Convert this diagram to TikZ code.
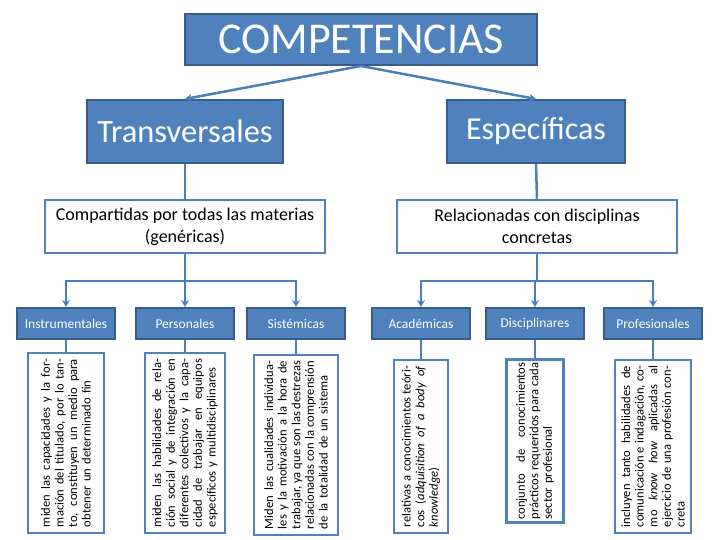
\documentclass[tikz,border=0pt]{standalone}
\usepackage{fontspec}
\setmainfont{Carlito}
\usepackage{tikz}
\usetikzlibrary{arrows.meta,positioning}
\definecolor{boxblue}{RGB}{79,129,189}
\definecolor{darkblue}{RGB}{56,93,138}
\definecolor{lineblue}{RGB}{74,126,187}

\newlength{\rowlen}
\newcommand{\fullline}[1]{\leavevmode\hbox to \rowlen{\spaceskip=0.21em plus 3em minus 0.05em #1}\\}

\begin{document}
\begin{tikzpicture}[x=1pt, y=-1pt,
    bluebox/.style={draw=darkblue, line width=2pt, fill=boxblue, text=white, inner sep=0pt},
    whitebox/.style={draw=boxblue, line width=2.5pt, fill=white, align=center, inner sep=0pt},
    tagbox/.style={bluebox, minimum width=98pt, minimum height=31pt, font=\fontsize{13.5}{15}\selectfont},
    uprightbox/.style={draw=boxblue, line width=2.5pt, fill=white, rotate=90, align=left,
        inner xsep=6pt, inner ysep=2pt, font=\fontsize{12.6}{13.6}\selectfont,
        text width=#1, execute at begin node={\setlength{\rowlen}{#1}}},
    link/.style={draw=lineblue, line width=2.5pt},
    tolink/.style={link, -{Stealth[length=7pt,width=8pt]}}]
    \useasboundingbox (0,0) rectangle (720,540);

    % Top levels
    \node[bluebox, minimum width=352pt, minimum height=51pt, font=\fontsize{44}{46}\selectfont] (comp) at (361,39.5) {COMPETENCIAS};
    \node[bluebox, minimum width=196pt, minimum height=63pt, font=\fontsize{32.5}{34}\selectfont] (trans) at (185,131.5) {Transversales};
    \node[bluebox, minimum width=178pt, minimum height=63pt, font=\fontsize{32}{34}\selectfont] (espec) at (536,131.5) {Específicas};

    \node[whitebox, minimum width=280pt, minimum height=53pt, font=\fontsize{18}{22}\selectfont] (gen) at (185,226.5) {Compartidas por todas las materias\\(genéricas)};
    \node[whitebox, minimum width=280pt, minimum height=53pt, font=\fontsize{18}{22}\selectfont] (conc) at (537,226.5) {Relacionadas con disciplinas\\concretas};

    % Kinds of competences
    \node[tagbox] (instr) at (66,323.5) {Instrumentales};
    \node[tagbox] (pers) at (185,323.5) {Personales};
    \node[tagbox] (sist) at (296,323.5) {Sistémicas};
    \node[tagbox] (acad) at (421,323.5) {Académicas};
    \node[tagbox] (disc) at (535,323.5) {Disciplinares};
    \node[tagbox] (prof) at (653,323.5) {Profesionales};

    % Descriptions, read from bottom to top
    \node[uprightbox=168pt, minimum height=76pt] (txtinstr) at (66,443) {%
        \fullline{miden las capacidades y la for-}
        \fullline{mación del titulado, por lo tan-}
        \fullline{to, constituyen un medio para}
        obtener un determinado fin};
    \node[uprightbox=168pt, minimum height=80pt] (txtpers) at (185,443) {%
        \fullline{miden las habilidades de rela-}
        \fullline{ción social y de integración en}
        \fullline{diferentes colectivos y la capa-}
        \fullline{cidad de trabajar en equipos}
        específicos y multidisciplinares};
    \node[uprightbox=168pt, minimum height=84pt] (txtsist) at (296,445) {%
        \fullline{Miden las cualidades individua-}
        \fullline{les y la motivación a la hora de}
        \fullline{trabajar, ya que son las destrezas}
        \fullline{relacionadas con la comprensión}
        de la totalidad de un sistema};
    \node[uprightbox=161pt, minimum height=54pt] (txtacad) at (421,446.5) {%
        \fullline{relativas a conocimientos teóri-}
        \fullline{cos (\textit{adquisition of a body of}}
        \textit{knowledge})};
    \node[uprightbox=157pt, inner xsep=3pt, minimum height=57pt] (txtdisc) at (535,441) {%
        \fullline{conjunto de conocimientos}
        \fullline{prácticos requeridos para cada}
        sector profesional};
    \node[uprightbox=161pt, minimum height=76pt] (txtprof) at (653,446.5) {%
        \fullline{incluyen tanto habilidades de}
        \fullline{comunicación e indagación, co-}
        \fullline{mo \textit{know how} aplicadas al}
        \fullline{ejercicio de una profesión con-}
        creta};

    % Connectors
    \draw[tolink] (comp.south) -- (trans.north);
    \draw[tolink] (comp.south) -- (espec.north);
    \draw[link] (trans.south) -- (gen.north);
    \draw[link] (espec.south) -- (conc.north);

    \coordinate (splitgen) at (185,281);
    \coordinate (splitconc) at (537,281);
    \draw[link] (gen.south) -- (splitgen);
    \draw[link] (conc.south) -- (splitconc);
    \foreach \t in {instr,pers,sist}
        \draw[tolink] (splitgen) -| (\t.north);
    \foreach \t in {acad,disc,prof}
        \draw[tolink] (splitconc) -| (\t.north);

    \foreach \t in {instr,pers,sist,acad,disc,prof}
        \draw[link] (\t.south) -- (txt\t.east);
\end{tikzpicture}
\end{document}
